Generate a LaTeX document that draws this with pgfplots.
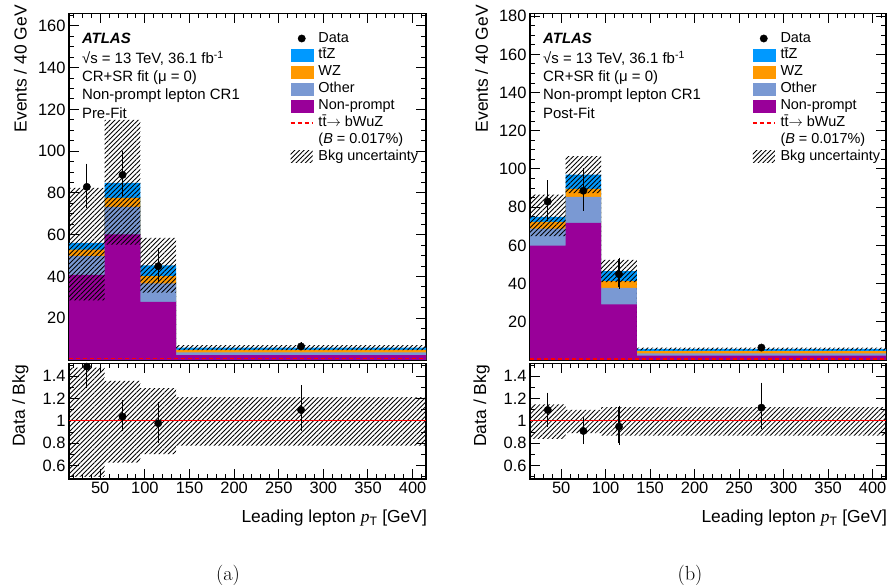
\documentclass[border=0pt]{standalone}
\usepackage{pgfplots}
\pgfplotsset{compat=1.18}
\usetikzlibrary{patterns,patterns.meta}
\usepackage{fontspec}
\setmainfont{Liberation Sans}
\newfontfamily\timesf{Liberation Serif}
\newfontfamily\lmr{Latin Modern Roman}
\definecolor{cttz}{RGB}{0,153,255}
\definecolor{cwz}{RGB}{255,153,0}
\definecolor{cother}{RGB}{122,153,211}
\definecolor{cnp}{RGB}{153,0,153}
\tikzset{
  hatch/.style={pattern={Lines[angle=45,distance=3.3bp,line width=0.85bp]}, pattern color=black, draw=none},
  txt/.style={anchor=base west, font=\fontsize{15}{18}\selectfont, inner sep=0pt}
}
\pgfplotsset{
  atlas/.style={scale only axis, anchor=south west,
    axis line style={line width=1.2bp}, tick style={black, line width=1bp},
    major tick length=10bp, minor tick length=5bp, tick align=inside,
    xtick pos=both, ytick pos=both,
    xmin=15, xmax=415, xtick={50,100,...,400}, minor xtick={20,30,...,410},
    tick label style={font=\fontsize{16.5}{18}\selectfont},
    label style={font=\fontsize{17.5}{20}\selectfont},
    /pgf/number format/assume math mode=true, clip=true},
  datapts/.style={only marks, mark=*, mark size=3.7bp, black, mark options={fill=black},
    error bars/y dir=both, error bars/y explicit, error bars/error bar style={line width=1.1bp},
    error bars/error mark options={mark size=1.6bp, line width=1bp}},
  leg/.style={legend style={at={(rel axis cs:#1,0.9475)}, anchor=north west, draw=none, fill=none,
    inner sep=0pt, outer sep=0pt, row sep=2.9bp, column sep=5bp,
    font=\fontsize{14.5}{16}\selectfont,
    nodes={inner sep=0pt, text height=10.5bp, text depth=3.5bp}, cells={anchor=west}},
    legend cell align=left}
}
\newcommand{\legendentries}{%
  \addlegendimage{legend image code/.code={\fill[black] (11bp,0) circle (3.7bp);}}
  \addlegendentry{Data}
  \addlegendimage{legend image code/.code={\fill[cttz] (0,-6bp) rectangle (22bp,6bp);}}
  \addlegendentry{t\={t}Z}
  \addlegendimage{legend image code/.code={\fill[cwz] (0,-6bp) rectangle (22bp,6bp);}}
  \addlegendentry{WZ}
  \addlegendimage{legend image code/.code={\fill[cother] (0,-6bp) rectangle (22bp,6bp);}}
  \addlegendentry{Other}
  \addlegendimage{legend image code/.code={\fill[cnp] (0,-6bp) rectangle (22bp,6bp);}}
  \addlegendentry{Non-prompt}
  \addlegendimage{legend image code/.code={\draw[red, line width=1.5bp, dash pattern=on 4bp off 3bp] (0,0) -- (22bp,0);}}
  \addlegendentry{t\={t}$\rightarrow$ bWuZ}
  \addlegendimage{empty legend}
  \addlegendentry{(\textit{B} = 0.017\%)}
  \addlegendimage{legend image code/.code={\fill[hatch] (0,-6bp) rectangle (22bp,6bp);}}
  \addlegendentry{Bkg uncertainty}
}
\begin{document}
\begin{tikzpicture}
\useasboundingbox (0,0) rectangle (891bp,585bp);
% ================= (a) Pre-fit main =================
\begin{axis}[atlas, at={(69bp,225bp)}, width=357bp, height=346.7bp,
  ymin=0, ymax=166, ytick={20,40,...,160}, minor ytick={5,10,...,165},
  xticklabel=\empty, ylabel={Events / 40 GeV},
  ylabel style={at={(axis description cs:-0.136,1.024)}, anchor=east, inner sep=0pt},
  leg=0.619]
\addplot[const plot, fill=cttz, draw=none, forget plot] coordinates {(15,56.1)(55,84.8)(95,45.3)(135,5.9)(415,5.9)} \closedcycle;
\addplot[const plot, fill=cwz, draw=none, forget plot] coordinates {(15,52.9)(55,77.6)(95,40.2)(135,4.8)(415,4.8)} \closedcycle;
\addplot[const plot, fill=cother, draw=none, forget plot] coordinates {(15,49.7)(55,73.3)(95,36.7)(135,3.7)(415,3.7)} \closedcycle;
\addplot[const plot, fill=cnp, draw=none, forget plot] coordinates {(15,40.7)(55,60.1)(95,27.8)(135,2.3)(415,2.3)} \closedcycle;
\addplot[hatch, forget plot] coordinates {(15,28.5)(15,82.4)(55,82.4)(55,115.0)(95,115.0)(95,58.5)(135,58.5)(135,7.1)(415,7.1)(415,4.7)(135,4.7)(135,32.3)(95,32.3)(95,55.3)(55,55.3)(55,28.5)} -- cycle;
\addplot[red, line width=1.5bp, dash pattern=on 4bp off 3bp, forget plot] coordinates {(15,0.6)(415,0.6)};
\addplot[datapts, forget plot] coordinates {(35,82.9) += (0,10.4) -= (0,9.4) (75,88.6) += (0,10.9) -= (0,9.6) (115,44.9) += (0,7.8) -= (0,6.7) (275,6.5) += (0,1.2) -= (0,1.0)};
\legendentries
\node[txt, font=\fontsize{15}{18}\selectfont\bfseries\itshape] at (rel axis cs:0.036,0.9135) {ATLAS};
\node[txt] at (rel axis cs:0.036,0.8558) {√s = 13 TeV, 36.1 fb\textsuperscript{-1}};
\node[txt] at (rel axis cs:0.036,0.8047) {CR+SR fit (μ = 0)};
\node[txt] at (rel axis cs:0.036,0.752) {Non-prompt lepton CR1};
\node[txt] at (rel axis cs:0.036,0.697) {Pre-Fit};
\end{axis}
% ================= (a) ratio =================
\begin{axis}[atlas, at={(69bp,106bp)}, width=357bp, height=115.7bp,
  ymin=0.48, ymax=1.516, ytick={0.6,0.8,1,1.2,1.4}, minor ytick={0.5,0.7,0.9,1.1,1.3,1.5},
  ylabel={Data / Bkg},
  ylabel style={at={(axis description cs:-0.136,0.985)}, anchor=east, inner sep=0pt},
  xlabel={Leading lepton {\timesf\itshape p}\textsubscript{T} [GeV]},
  xlabel style={at={(axis description cs:1.003,-0.337)}, anchor=east, inner sep=0pt}]
\addplot[hatch] coordinates {(15,0.50)(15,1.477)(55,1.477)(55,1.358)(95,1.358)(95,1.293)(135,1.293)(135,1.212)(415,1.212)(415,0.779)(135,0.779)(135,0.702)(95,0.702)(95,0.627)(55,0.627)(55,0.50)} -- cycle;
\addplot[red, line width=1.1bp] coordinates {(15,1)(415,1)};
\addplot[datapts] coordinates {(35,1.486) += (0,0.19) -= (0,0.179) (75,1.038) += (0,0.135) -= (0,0.11) (115,0.979) += (0,0.179) -= (0,0.158) (275,1.098) += (0,0.209) -= (0,0.17)};
\end{axis}
% ================= (b) Post-fit main =================
\begin{axis}[atlas, at={(530bp,225bp)}, width=356bp, height=346.7bp,
  ymin=0, ymax=181.5, ytick={20,40,...,180}, minor ytick={5,10,...,180},
  xticklabel=\empty, ylabel={Events / 40 GeV},
  ylabel style={at={(axis description cs:-0.136,1.024)}, anchor=east, inner sep=0pt},
  leg=0.6236]
\addplot[const plot, fill=cttz, draw=none, forget plot] coordinates {(15,74.9)(55,97.0)(95,46.5)(135,5.8)(415,5.8)} \closedcycle;
\addplot[const plot, fill=cwz, draw=none, forget plot] coordinates {(15,72.3)(55,89.6)(95,41.3)(135,4.6)(415,4.6)} \closedcycle;
\addplot[const plot, fill=cother, draw=none, forget plot] coordinates {(15,68.8)(55,85.4)(95,37.8)(135,3.5)(415,3.5)} \closedcycle;
\addplot[const plot, fill=cnp, draw=none, forget plot] coordinates {(15,59.9)(55,71.8)(95,29.1)(135,2.3)(415,2.3)} \closedcycle;
\addplot[hatch, forget plot] coordinates {(15,64.8)(15,86.6)(55,86.6)(55,106.7)(95,106.7)(95,52.4)(135,52.4)(135,6.5)(415,6.5)(415,5.1)(135,5.1)(135,40.8)(95,40.8)(95,87.3)(55,87.3)(55,64.8)} -- cycle;
\addplot[red, line width=1.5bp, dash pattern=on 4bp off 3bp, forget plot] coordinates {(15,0.6)(415,0.6)};
\addplot[datapts, forget plot] coordinates {(35,82.9) += (0,10.4) -= (0,9.4) (75,88.6) += (0,10.9) -= (0,9.6) (115,44.9) += (0,7.8) -= (0,6.7) (275,6.5) += (0,1.2) -= (0,1.0)};
\legendentries
\node[txt, font=\fontsize{15}{18}\selectfont\bfseries\itshape] at (rel axis cs:0.0365,0.9135) {ATLAS};
\node[txt] at (rel axis cs:0.0365,0.8558) {√s = 13 TeV, 36.1 fb\textsuperscript{-1}};
\node[txt] at (rel axis cs:0.0365,0.8047) {CR+SR fit (μ = 0)};
\node[txt] at (rel axis cs:0.0365,0.752) {Non-prompt lepton CR1};
\node[txt] at (rel axis cs:0.0365,0.697) {Post-Fit};
\end{axis}
% ================= (b) ratio =================
\begin{axis}[atlas, at={(530bp,106bp)}, width=356bp, height=115.7bp,
  ymin=0.48, ymax=1.516, ytick={0.6,0.8,1,1.2,1.4}, minor ytick={0.5,0.7,0.9,1.1,1.3,1.5},
  ylabel={Data / Bkg},
  ylabel style={at={(axis description cs:-0.136,0.985)}, anchor=east, inner sep=0pt},
  xlabel={Leading lepton {\timesf\itshape p}\textsubscript{T} [GeV]},
  xlabel style={at={(axis description cs:1.003,-0.337)}, anchor=east, inner sep=0pt}]
\addplot[hatch] coordinates {(15,0.839)(15,1.149)(55,1.149)(55,1.098)(95,1.098)(95,1.123)(135,1.123)(135,1.123)(415,1.123)(415,0.868)(135,0.868)(135,0.868)(95,0.868)(95,0.89)(55,0.89)(55,0.839)} -- cycle;
\addplot[red, line width=1.1bp] coordinates {(15,1)(415,1)};
\addplot[datapts] coordinates {(35,1.098) += (0,0.141) -= (0,0.134) (75,0.91) += (0,0.114) -= (0,0.104) (115,0.949) += (0,0.174) -= (0,0.149) (275,1.119) += (0,0.209) -= (0,0.175)};
\end{axis}
\node[anchor=base, font=\lmr\fontsize{20.5}{24}\selectfont, inner sep=0pt] at (228bp,4.6bp) {(a)};
\node[anchor=base, font=\lmr\fontsize{20.5}{24}\selectfont, inner sep=0pt] at (690bp,4.6bp) {(b)};
\end{tikzpicture}
\end{document}
